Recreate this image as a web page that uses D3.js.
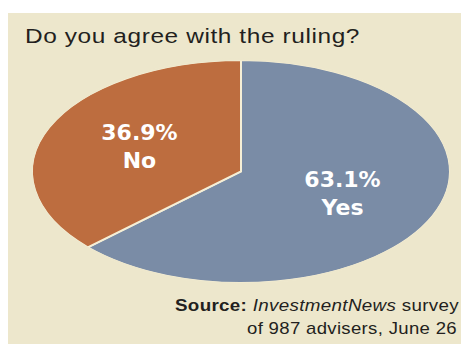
<!DOCTYPE html>
<meta charset="utf-8">
<style>
    body { margin: 0; background: #fff; }
    .title { font-family: "Liberation Sans", Arial, sans-serif; font-size: 20.5px; letter-spacing: 0.5px; fill: #231f20; }
    .lbl { font-family: "DejaVu Sans", sans-serif; font-weight: bold; font-size: 22px; fill: #fff; }
    .src { font-family: "Liberation Sans", Arial, sans-serif; font-size: 17px; letter-spacing: 0.3px; fill: #231f20; }
</style>

<svg width="461" height="344"></svg>

<script src="https://d3js.org/d3.v7.min.js"></script>
<script>
var answers = ["Yes", "No"];
var shares = [63.1, 36.9];
var colors = ["#7a8ca6", "#bd6d3f"];

var svg = d3.select("svg");
var W = 461, H = 344;

svg.append("rect")
    .attr("x", 8).attr("y", 13)
    .attr("width", W - 8).attr("height", H - 13)
    .attr("fill", "#ede7cc");

svg.append("text")
    .attr("class", "title")
    .attr("x", 25).attr("y", 43)
    .attr("textLength", 335).attr("lengthAdjust", "spacingAndGlyphs")
    .text("Do you agree with the ruling?");

// pie drawn as a circle, squashed into an ellipse
var cx = 241, cy = 171.5, rx = 209, ry = 111.5;
var data = answers.map(function(d, i) { return { name: d, value: shares[i], color: colors[i] }; });
var pie = d3.pie().sort(null).value(function(d) { return d.value; });
var arcs = pie(data);
var arc = d3.arc().innerRadius(0).outerRadius(rx);
var labelArc = d3.arc().innerRadius(rx * 0.53).outerRadius(rx * 0.53);

var g = svg.append("g")
    .attr("transform", "translate(" + cx + "," + cy + ") scale(1," + (ry / rx) + ")");
g.selectAll("path")
    .data(arcs)
    .enter()
    .append("path")
    .attr("d", arc)
    .attr("fill", function(d) { return d.data.color; })
    .attr("stroke", "#f6efd6")
    .attr("stroke-width", 2)
    .attr("stroke-linejoin", "miter")
    .attr("vector-effect", "non-scaling-stroke");
// cover the outer rim stroke
svg.append("ellipse")
    .attr("cx", cx).attr("cy", cy).attr("rx", rx + 0.5).attr("ry", ry + 0.5)
    .attr("fill", "none").attr("stroke", "#ede7cc").attr("stroke-width", 2);

var labels = svg.append("g");
arcs.forEach(function(d) {
    var c = labelArc.centroid(d);
    var x = cx + c[0], y = cy + c[1] * ry / rx;
    var t = labels.append("text").attr("class", "lbl").attr("text-anchor", "middle");
    t.append("tspan").attr("x", x).attr("y", y - 8).text(d.data.value.toFixed(1) + "%");
    t.append("tspan").attr("x", x).attr("y", y + 20).text(d.data.name);
});

// source lines, stretched to the reference widths
var s1 = svg.append("text").attr("class", "src")
    .attr("x", 175).attr("y", 311)
    .attr("textLength", 284).attr("lengthAdjust", "spacingAndGlyphs");
s1.append("tspan").attr("font-weight", "bold").text("Source:");
s1.append("tspan").text(" ");
s1.append("tspan").attr("font-style", "italic").text("InvestmentNews");
s1.append("tspan").text(" survey");
svg.append("text").attr("class", "src")
    .attr("x", 247).attr("y", 334)
    .attr("textLength", 210).attr("lengthAdjust", "spacingAndGlyphs")
    .text("of 987 advisers, June 26");
</script>
